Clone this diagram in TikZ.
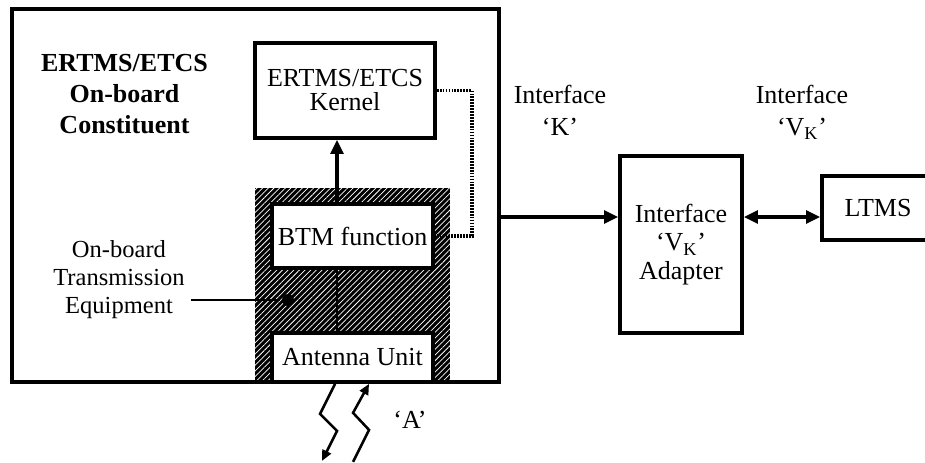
\documentclass[tikz,border=0pt]{standalone}
\usepackage{fontspec}
\setmainfont{Liberation Serif}
\usetikzlibrary{arrows.meta,patterns.meta}

\tikzset{every picture/.style={line width=2.6pt}}
\tikzset{
  box/.style={draw, line width=2.8pt, fill=white, inner sep=0pt, align=center},
  hatch/.style={preaction={fill=black}, pattern={Lines[angle=45,distance=3pt,line width=0.55pt]}, pattern color=white, inner sep=0pt},
  conn/.style={line width=2.6pt, -{Triangle[length=10.5pt,width=9.5pt]}},
  bolt/.style={line width=1.9pt},
  dotline/.style={line width=2.3pt, dash pattern=on 1.3pt off 0.9pt},
}

\begin{document}
\begin{tikzpicture}[x=0.75pt,y=0.75pt,yscale=-1,font=\fontsize{19.5}{24}\selectfont]
\useasboundingbox (0,0) rectangle (925,462);

%Shape: Hatched Rectangle
\node[hatch, minimum width=146.25pt, minimum height=145.5pt] (ote) at (352.5,285) {};
%Shape: Rectangle
\node[box, minimum width=120.75pt, minimum height=48pt] (btm) at (352.5,236) {BTM function};
%Shape: Rectangle
\node[box, minimum width=120.75pt, minimum height=36.75pt] (ant) at (352.5,357.5) {Antenna Unit};
%Shape: Rectangle
\node[box, minimum width=135pt, minimum height=71.25pt, font=\fontsize{19.5}{18}\selectfont] (kernel) at (345,90.5) {ERTMS/ETCS\\Kernel};
%Shape: Rectangle
\node[box, fill=none, line width=3.6pt, minimum width=365.25pt, minimum height=279.75pt] (obc) at (255.5,195.5) {};
%Shape: Rectangle
\node[box, minimum width=91.5pt, minimum height=132.75pt, font=\fontsize{19.5}{21.5}\selectfont] (adapter) at (681,244.5) {Interface\\`V\textsubscript{K}'\\Adapter};
%Shape: Rectangle
\node[box, minimum width=84pt, minimum height=48pt] (ltms) at (878,208) {LTMS};

% Text Node
\node[align=center, font=\fontsize{19.5}{23}\selectfont\bfseries] (obctitle) at (124.5,94) {ERTMS/ETCS\\On-board\\Constituent};
% Text Node
\node[align=center, font=\fontsize{18.4}{21}\selectfont] (otelabel) at (119,280) {On-board\\Transmission\\Equipment};
% Text Node
\node[align=center] (ifk) at (560,110) {Interface\\`K'};
% Text Node
\node[align=center] (ifvk) at (802,112) {Interface\\`V\textsubscript{K}'};
% Text Node
\node (alabel) at (410,420) {`A'};

\coordinate (kx) at (337,0);
\coordinate (dx) at (472,0);
\coordinate (ky) at (0,217);
\node[circle, fill, inner sep=0pt, minimum size=9pt] (tdot) at (288,300) {};

%Straight Lines
\draw[conn] (btm.north -| kx) -- (kernel.south -| kx);
%Straight Lines
\draw[bolt] (ant.north -| kx) -- (btm.south -| kx);
%Dotted Lines
\draw[dotline] (kernel.east) -| (dx |- btm.east) -- (btm.east);
%Straight Lines
\draw[conn] (obc.east |- ky) -- (adapter.west |- ky);
%Straight Lines
\draw[conn, {Triangle[length=10.5pt,width=9.5pt]}-{Triangle[length=10.5pt,width=9.5pt]}] (adapter.east |- ky) -- (ltms.west |- ky);
%Straight Lines
\draw[line width=1.8pt] (otelabel.east |- tdot) -- (tdot);
%Zigzag Lines
\draw[bolt, -{Triangle[length=8pt,width=7pt]}] ([xshift=-13.1pt]ant.south) -- ++(-15,30) -- ++(17,17) -- ++(-15,30);
\draw[bolt, {Triangle[length=8pt,width=7pt]}-] ([xshift=12.4pt]ant.south) -- ++(-16,29) -- ++(16,17) -- ++(-16,32);

\end{tikzpicture}
\end{document}
